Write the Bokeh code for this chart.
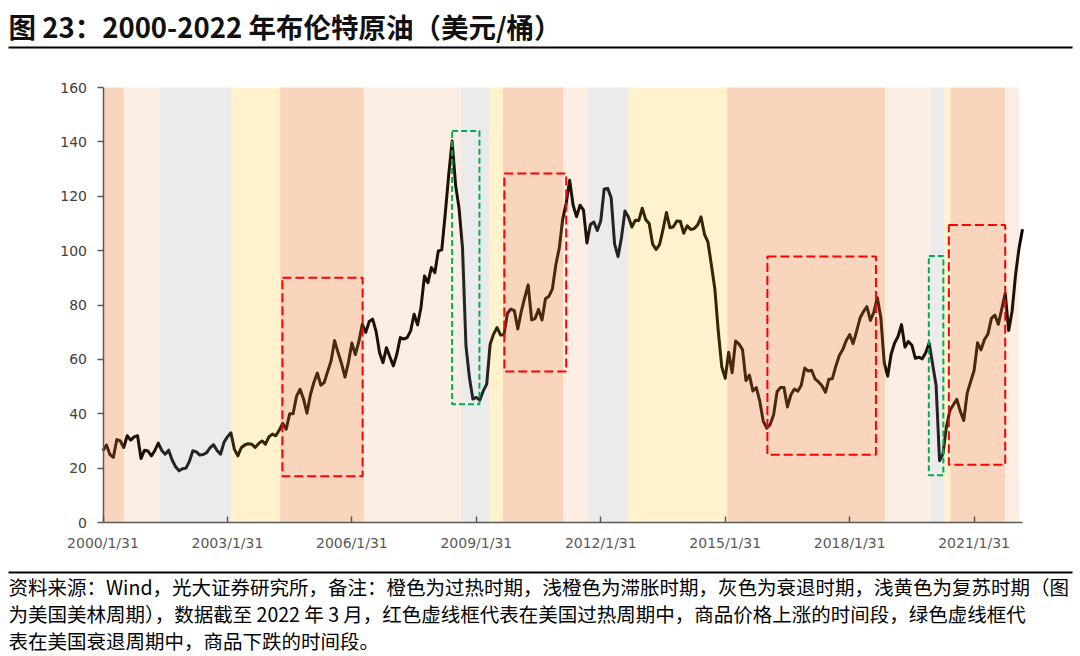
from bokeh.plotting import figure
from bokeh.models import FixedTicker, Range1d, ColumnDataSource
from bokeh.core.properties import value
from bokeh.embed import file_html
from bokeh.resources import INLINE

# ---------------- data ----------------
title_text = "图 23：2000-2022 年布伦特原油（美元/桶）"
foot_lines = [
    "资料来源：Wind，光大证券研究所，备注：橙色为过热时期，浅橙色为滞胀时期，灰色为衰退时期，浅黄色为复苏时期（图",
    "为美国美林周期），数据截至 2022 年 3 月，红色虚线框代表在美国过热周期中，商品价格上涨的时间段，绿色虚线框代",
    "表在美国衰退周期中，商品下跌的时间段。",
]

first_month = (2000, 1)   # series starts 2000/1/31, monthly (month end)
brent = [
    26.4, 28.5, 25.0, 24.0, 30.5, 30.0, 27.6, 31.9, 30.3, 31.5, 31.9, 23.5,          # 2000
    26.6, 26.3, 24.5, 26.5, 29.2, 26.5, 25.1, 26.6, 23.0, 20.5, 19.0, 19.8,          # 2001
    20.0, 22.5, 26.4, 26.0, 24.8, 25.0, 25.7, 27.5, 28.6, 26.5, 25.1, 29.5,          # 2002
    31.5, 33.0, 27.0, 24.5, 27.5, 28.5, 29.0, 28.8, 27.6, 29.0, 30.0, 28.8,          # 2003
    31.5, 32.5, 31.9, 34.0, 36.5, 34.3, 40.0, 40.0, 46.5, 49.0, 45.5, 40.2,          # 2004
    47.0, 51.5, 55.0, 50.5, 51.5, 55.6, 59.5, 66.9, 62.5, 58.5, 53.5, 58.9,          # 2005
    66.0, 61.8, 66.4, 72.9, 69.9, 73.9, 74.8, 70.3, 62.5, 58.8, 64.3, 60.9,          # 2006
    57.6, 61.9, 68.0, 67.5, 68.0, 70.5, 76.6, 72.7, 79.2, 90.7, 88.2, 93.8,          # 2007
    91.9, 99.9, 100.3, 113.4, 127.8, 140.3, 124.1, 115.6, 101.1, 65.0, 53.3, 45.4,   # 2008
    46.0, 45.0, 48.4, 50.9, 65.6, 69.3, 71.7, 69.0, 69.1, 77.0, 78.5, 77.9,          # 2009
    71.2, 77.6, 82.7, 87.4, 74.5, 75.0, 78.4, 74.5, 82.3, 83.2, 85.9, 94.8,          # 2010
    101.0, 111.8, 117.4, 125.9, 116.7, 112.5, 116.7, 114.9, 102.8, 109.6, 110.5, 107.4,  # 2011
    111.0, 122.7, 122.9, 119.5, 102.4, 97.8, 104.9, 114.6, 112.4, 108.7, 111.2, 111.1,   # 2012
    115.6, 111.4, 110.0, 102.4, 100.4, 102.2, 107.7, 114.0, 108.4, 108.8, 110.9, 110.8,  # 2013
    106.4, 109.1, 107.8, 108.1, 109.4, 112.4, 106.0, 103.2, 94.7, 85.9, 70.2, 57.3,      # 2014
    53.0, 62.6, 55.1, 66.8, 65.6, 63.6, 52.2, 54.2, 48.4, 49.6, 44.6, 37.3,          # 2015
    34.7, 36.0, 39.6, 48.1, 49.7, 49.7, 42.5, 47.0, 49.1, 48.3, 50.5, 56.8,          # 2016
    55.7, 56.0, 52.8, 51.7, 50.3, 47.9, 52.7, 52.9, 57.5, 61.4, 63.6, 66.9,          # 2017
    69.1, 65.8, 70.3, 75.2, 77.6, 79.4, 74.3, 77.4, 82.7, 75.5, 58.7, 53.8,          # 2018
    61.9, 66.0, 68.4, 72.8, 64.5, 66.6, 65.2, 60.4, 60.8, 60.2, 62.4, 66.0,          # 2019
    58.2, 50.5, 22.7, 25.3, 35.3, 41.2, 43.3, 45.3, 40.9, 37.5, 47.6, 51.8,          # 2020
    55.9, 66.1, 63.5, 67.3, 69.3, 75.1, 76.3, 72.9, 78.5, 84.4, 70.6, 77.8,          # 2021
    91.2, 101.0, 107.9,                                                              # 2022
]

# US Merrill Lynch clock phases (months since 2000/1/31)
phase_edges = [0, 6, 16.5, 37, 51.3, 75.4, 103.6, 111.8, 115.7, 133.1, 140.5,
               152, 180.6, 226.2, 239.3, 243.4, 245.2, 260.9, 265.1]
phase_names = ["过热", "滞胀", "衰退", "复苏", "过热", "滞胀", "衰退", "复苏", "过热",
               "滞胀", "衰退", "复苏", "过热", "滞胀", "衰退", "复苏", "过热", "滞胀"]

# highlighted windows (months since 2000/1/31, price range)
box_start = [51.9, 101.0, 116.1, 192.2, 238.9, 244.7]
box_end = [75.1, 108.9, 134.0, 223.6, 243.1, 261.0]
box_low = [17.0, 43.5, 55.5, 24.9, 17.4, 21.2]
box_high = [90.0, 144.0, 128.4, 97.8, 98.0, 109.4]
box_kind = ["涨", "跌", "涨", "涨", "跌", "涨"]

x_tick_labels = ["2000/1/31", "2003/1/31", "2006/1/31", "2009/1/31",
                 "2012/1/31", "2015/1/31", "2018/1/31", "2021/1/31"]
y_ticks = [0, 20, 40, 60, 80, 100, 120, 140, 160]

# ---------------- helpers ----------------
def month_of(label):
    y, m, _ = label.split("/")
    return (int(y) - first_month[0]) * 12 + int(m) - first_month[1]

months = list(range(len(brent)))
tick_months = [month_of(t) for t in x_tick_labels]

phase_color = {"过热": "#ED7D31", "滞胀": "#ED7D31", "衰退": "#A5A5A5", "复苏": "#FFC000"}
phase_alpha = {"过热": 0.32, "滞胀": 0.13, "衰退": 0.22, "复苏": 0.20}
box_color = {"涨": "#FF0000", "跌": "#00B050"}
box_dash = {"涨": "9 4", "跌": "6 3"}

# ---------------- geometry ----------------
W, H = 1080, 656
FL, FR, FT, FB = 102.5, 1022, 87, 522      # plot-area edges on the page (px)
X0, X1 = 0, 266                            # months shown on the axis
Y0, Y1 = 0, 160
kx = (FR - FL) / (X1 - X0)
ky = (FB - FT) / (Y1 - Y0)
x_range = Range1d(X0 - FL / kx, X1 + (W - FR) / kx)
y_range = Range1d(Y0 - (H - FB) / ky, Y1 + FT / ky)

p = figure(width=W, height=H, x_range=x_range, y_range=y_range,
           output_backend="svg", toolbar_location=None, min_border=0)
p.extra_x_ranges = {"page": Range1d(0, W)}
p.extra_y_ranges = {"page": Range1d(H, 0)}
p.outline_line_color = None
p.xgrid.visible = False
p.ygrid.visible = False
p.background_fill_color = "white"
p.border_fill_color = "white"

# price line (under the translucent phase bands)
p.line(months, brent, line_color="#000000", line_width=3, line_join="round")

band_src = ColumnDataSource(dict(
    left=phase_edges[:-1], right=phase_edges[1:],
    bottom=[0] * len(phase_names), top=[160] * len(phase_names),
    color=[phase_color[n] for n in phase_names],
    alpha=[phase_alpha[n] for n in phase_names],
))
p.quad(left="left", right="right", bottom="bottom", top="top", source=band_src,
       fill_color="color", fill_alpha="alpha", line_color=None)

for i in range(len(box_start)):
    k = box_kind[i]
    p.quad(left=[box_start[i]], right=[box_end[i]], bottom=[box_low[i]], top=[box_high[i]],
           fill_color=None, line_color=box_color[k], line_width=2, line_dash=box_dash[k])

# axes, pinned at the plot-area edges
p.xaxis.fixed_location = Y0
p.yaxis.fixed_location = X0
p.xaxis.bounds = (X0, X1)
p.yaxis.bounds = (Y0, Y1)
p.xaxis.ticker = FixedTicker(ticks=tick_months)
p.xaxis.major_label_overrides = {m: t for m, t in zip(tick_months, x_tick_labels)}
p.yaxis.ticker = FixedTicker(ticks=y_ticks)
for ax in (p.xaxis, p.yaxis):
    ax.axis_line_color = "#595959"
    ax.axis_line_width = 1.5
    ax.major_tick_line_color = "#595959"
    ax.major_tick_line_width = 1.5
    ax.minor_tick_line_color = None
    ax.major_label_text_font = "DejaVu Sans"
    ax.major_label_text_font_size = "14px"
    ax.major_label_text_color = "#595959"
p.xaxis.major_tick_in = 6
p.xaxis.major_tick_out = 0
p.xaxis.major_label_standoff = 12
p.yaxis.major_tick_in = 0
p.yaxis.major_tick_out = 6
p.yaxis.major_label_standoff = 10
p.yaxis.major_label_text_color = "#404040"

# title, rules and footnote in page pixels
p.text(x=[8], y=[25], text=[title_text], x_range_name="page", y_range_name="page",
       text_font=value("Noto Sans CJK SC"), text_font_size="27.5px", text_font_style="bold",
       text_baseline="middle", text_align="left", text_color="#111111")
p.segment(x0=[8, 8], y0=[47, 572], x1=[1072, 1072], y1=[47, 572],
          x_range_name="page", y_range_name="page", line_color="#000000", line_width=2)
p.text(x=[8] * len(foot_lines), y=[586 + 27 * i for i in range(len(foot_lines))],
       text=foot_lines, x_range_name="page", y_range_name="page",
       text_font=value("Noto Sans CJK SC"), text_font_size="19.5px",
       text_baseline="middle", text_align="left", text_color="#000000")

open("out.html", "w").write(file_html(p, INLINE))
